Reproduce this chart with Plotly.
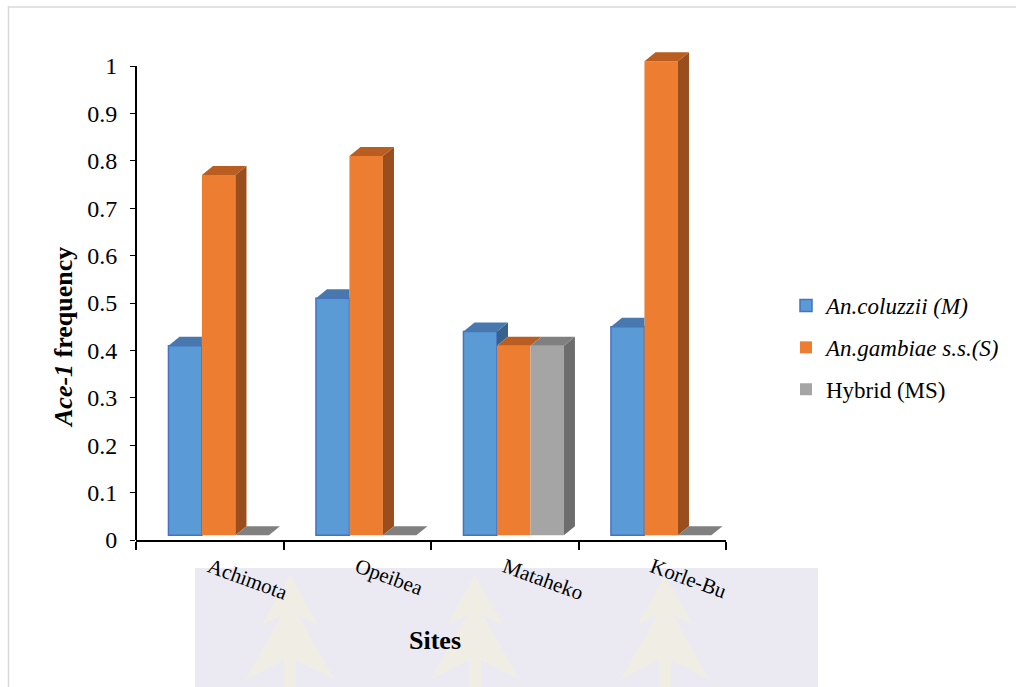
import plotly.graph_objects as go

# Ace-1 frequency per collection site and molecular form
sites = ["Achimota", "Opeibea", "Mataheko", "Korle-Bu"]
coluzzii_m = [0.40, 0.50, 0.43, 0.44]
gambiae_s = [0.76, 0.80, 0.40, 1.00]
hybrid_ms = [0.00, 0.00, 0.40, 0.00]
y_ticks = [0, 0.1, 0.2, 0.3, 0.4, 0.5, 0.6, 0.7, 0.8, 0.9, 1]
y_tick_text = ["0", "0.1", "0.2", "0.3", "0.4", "0.5", "0.6", "0.7", "0.8", "0.9", "1"]

series = [
    dict(name="<i>An.coluzzii (M)</i>", values=coluzzii_m,
         front="#5B9BD5", edge="#4472C4", top="#4878AE", side="#36618F"),
    dict(name="<i>An.gambiae s.s.(S)</i>", values=gambiae_s,
         front="#ED7D31", edge="#ED7D31", top="#B95D20", side="#9A4E1E"),
    dict(name="Hybrid (MS)", values=hybrid_ms,
         front="#A5A5A5", edge="#A5A5A5", top="#808080", side="#6D6D6D"),
]

W, H = 1016, 687
ML, MR, MT, MB = 136, 290, 30, 147
PLOT_W = W - ML - MR
PLOT_H = H - MT - MB
UNIT_PX = 474                      # pixels per 1.0 on the value axis
Y_MAX = PLOT_H / UNIT_PX

FLOOR = 0.01                       # raised floor of the 3-D columns
BAR_W = 0.227
GROUP_START = -0.28
DEPTH_X = 0.075
DEPTH_Y = 0.019

SERIF = "Liberation Serif"


def px_x(p):
    return (p - ML) / PLOT_W


def px_y(p):
    return (H - MB - p) / PLOT_H


fig = go.Figure()

# front faces of the columns
for k, s in enumerate(series):
    fig.add_trace(go.Bar(
        x=list(range(len(sites))), y=s["values"], base=FLOOR,
        width=BAR_W, offset=GROUP_START + k * BAR_W,
        marker=dict(color=s["front"],
                    line=dict(color=s["edge"], width=1.5 if k == 0 else 0)),
        name=s["name"], legendgroup=str(k), hoverinfo="skip",
    ))

# side and top faces, hidden where the neighbouring column covers them
for k, s in enumerate(series):
    sx, sy, tx, ty = [], [], [], []
    for i, v in enumerate(s["values"]):
        left = i + GROUP_START + k * BAR_W
        right = left + BAR_W
        t = FLOOR + v
        nxt = FLOOR + series[k + 1]["values"][i] if k + 1 < len(series) else None
        lo = FLOOR if nxt is None else max(FLOOR, nxt)
        if t > lo:
            sx += [right, right + DEPTH_X, right + DEPTH_X, right, right, None]
            sy += [lo, lo + DEPTH_Y, t + DEPTH_Y, t, lo, None]
        far = right if (nxt is not None and nxt > t) else right + DEPTH_X
        tx += [left, left + DEPTH_X, far, right, left, None]
        ty += [t, t + DEPTH_Y, t + DEPTH_Y, t, t, None]
    for xs, ys, col in ((sx, sy, s["side"]), (tx, ty, s["top"])):
        fig.add_trace(go.Scatter(
            x=xs, y=ys, mode="lines", fill="toself", fillcolor=col,
            line=dict(width=0, color=col), showlegend=False, hoverinfo="skip",
        ))

shapes = [
    # outer frame
    dict(type="rect", xref="paper", yref="paper",
         x0=px_x(8.5), x1=px_x(1030), y0=px_y(700), y1=px_y(7),
         line=dict(color="#D9D9D9", width=1.5), fillcolor="rgba(0,0,0,0)", layer="below"),
    # faint crest watermark band
    dict(type="rect", xref="paper", yref="paper",
         x0=px_x(195), x1=px_x(818), y0=px_y(690), y1=px_y(568),
         line=dict(width=0), fillcolor="#EBEAF3", layer="below"),
    # value axis line
    dict(type="line", xref="paper", yref="paper",
         x0=0, x1=0, y0=0, y1=1 / Y_MAX,
         line=dict(color="black", width=2)),
]
for cx in (290, 475, 665):
    path = (f"M {px_x(cx)},{px_y(575)} "
            f"L {px_x(cx + 28)},{px_y(625)} L {px_x(cx + 8)},{px_y(615)} "
            f"L {px_x(cx + 45)},{px_y(680)} L {px_x(cx + 6)},{px_y(660)} "
            f"L {px_x(cx + 6)},{px_y(690)} L {px_x(cx - 6)},{px_y(690)} "
            f"L {px_x(cx - 6)},{px_y(660)} L {px_x(cx - 45)},{px_y(680)} "
            f"L {px_x(cx - 8)},{px_y(615)} L {px_x(cx - 28)},{px_y(625)} Z")
    shapes.append(dict(type="path", xref="paper", yref="paper", path=path,
                       line=dict(width=0), fillcolor="#F0EDE5", layer="below"))

fig.update_layout(
    width=W, height=H,
    margin=dict(l=ML, r=MR, t=MT, b=MB, autoexpand=False),
    paper_bgcolor="white", plot_bgcolor="rgba(0,0,0,0)",
    barmode="overlay",
    font=dict(family=SERIF, color="black", size=22),
    showlegend=True,
    legend=dict(x=px_x(786), y=px_y(284), xanchor="left", yanchor="top",
                font=dict(family=SERIF, size=23, color="black"),
                tracegroupgap=9, bgcolor="rgba(0,0,0,0)"),
    shapes=shapes,
    annotations=[
        dict(text="<b>Sites</b>", xref="paper", yref="paper",
             x=px_x(435), y=px_y(640), xanchor="center", yanchor="middle",
             showarrow=False,
             font=dict(family=SERIF, size=26, color="black")),
        dict(text="<b><i>Ace-1</i> frequency</b>", xref="paper", yref="paper",
             x=px_x(63), y=px_y(338), xanchor="center", yanchor="middle",
             showarrow=False, textangle=-90,
             font=dict(family=SERIF, size=26, color="black")),
    ],
)

fig.update_xaxes(
    range=[-0.5, len(sites) - 0.5],
    tickmode="array", tickvals=list(range(len(sites))), ticktext=sites,
    tickangle=20, ticks="", ticklabelstandoff=5,
    tickfont=dict(family=SERIF, size=21, color="black"),
    showline=True, linecolor="black", linewidth=2,
    showgrid=False, zeroline=False, fixedrange=True, automargin=False,
    minor=dict(tickmode="array", tickvals=[-0.5, 0.5, 1.5, 2.5, 3.5],
               ticks="outside", ticklen=8, tickwidth=2, tickcolor="black",
               showgrid=False),
)
fig.update_yaxes(
    range=[0, Y_MAX],
    tickmode="array", tickvals=y_ticks, ticktext=y_tick_text,
    ticks="outside", ticklen=5, tickwidth=1, tickcolor="black",
    ticklabelstandoff=8,
    tickfont=dict(family=SERIF, size=24, color="black"),
    showline=False, showgrid=False, zeroline=False, fixedrange=True, automargin=False,
)

fig.write_html("out.html")
